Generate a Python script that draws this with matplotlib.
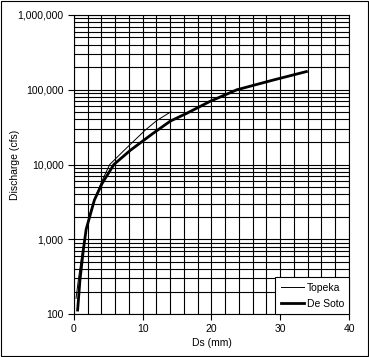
import numpy as np
import matplotlib
matplotlib.use("Agg")
import matplotlib.pyplot as plt
from matplotlib.ticker import FixedLocator, LogLocator, FuncFormatter, NullFormatter

plt.rcParams['font.family'] = ['Liberation Sans', 'DejaVu Sans']

# Topeka curve
topeka_ds = [0.3, 0.63, 1.1, 1.6, 2.3, 3.1, 4.3, 5.2, 7.3, 10.3, 12.0, 14.1]
topeka_q = [162, 285, 583, 1080, 2200, 3700, 6700, 10000, 15500, 28500, 38500, 50800]

# De Soto curve
desoto_ds = [0.53, 0.87, 1.36, 1.77, 2.33, 2.97, 4.1, 5.8, 8.2, 11.5, 14.0, 16.4, 19.8, 23.7, 29.0, 33.8]
desoto_q = [113, 285, 718, 1360, 2070, 3350, 5600, 10000, 15500, 26100, 38000, 48400, 70000, 100000, 135000, 175000]

y_ticks = [100, 1000, 10000, 100000, 1000000]
x_ticks = [0, 10, 20, 30, 40]

fig = plt.figure(figsize=(3.69, 3.57), dpi=100)
fig.patches.append(plt.Rectangle((0.004, 0.004), 0.992, 0.992, transform=fig.transFigure,
                                 fill=False, edgecolor='black', linewidth=0.8))
ax = fig.add_axes([0.2005, 0.1204, 0.7453, 0.8376])

ax.set_yscale('log')
ax.set_xlim(0, 40)
ax.set_ylim(100, 1000000)

ax.xaxis.set_major_locator(FixedLocator(x_ticks))
ax.xaxis.set_minor_locator(FixedLocator(np.arange(0, 41, 2)))
ax.yaxis.set_major_locator(FixedLocator(y_ticks))
ax.yaxis.set_minor_locator(LogLocator(base=10, subs=np.arange(2, 10)))
ax.yaxis.set_major_formatter(FuncFormatter(lambda v, p: f"{int(v):,}"))
ax.yaxis.set_minor_formatter(NullFormatter())

ax.grid(True, which='both', color='black', linewidth=0.8)
ax.set_axisbelow(True)
ax.tick_params(which='major', direction='out', length=4, width=0.8, labelsize=7.5, color='black')
ax.tick_params(which='minor', length=0)
for s in ax.spines.values():
    s.set_linewidth(0.8)

ax.plot(topeka_ds, topeka_q, color='black', linewidth=0.7, label='Topeka')
ax.plot(desoto_ds, desoto_q, color='black', linewidth=2.0, label='De Soto')

ax.set_xlabel('Ds (mm)', fontsize=7.5)
ax.set_ylabel('Discharge (cfs)', fontsize=7.5)
ax.xaxis.set_label_coords(0.5, -0.08)
ax.yaxis.set_label_coords(-0.196, 0.5)

leg = ax.legend(loc='lower right', fontsize=7.5, frameon=True, fancybox=False,
                borderaxespad=0, handlelength=2.3, handletextpad=0.2, borderpad=0.5,
                labelspacing=0.6)
leg.get_frame().set_edgecolor('black')
leg.get_frame().set_linewidth(0.8)
leg.get_frame().set_alpha(1)

fig.savefig('out.png', dpi=100)
